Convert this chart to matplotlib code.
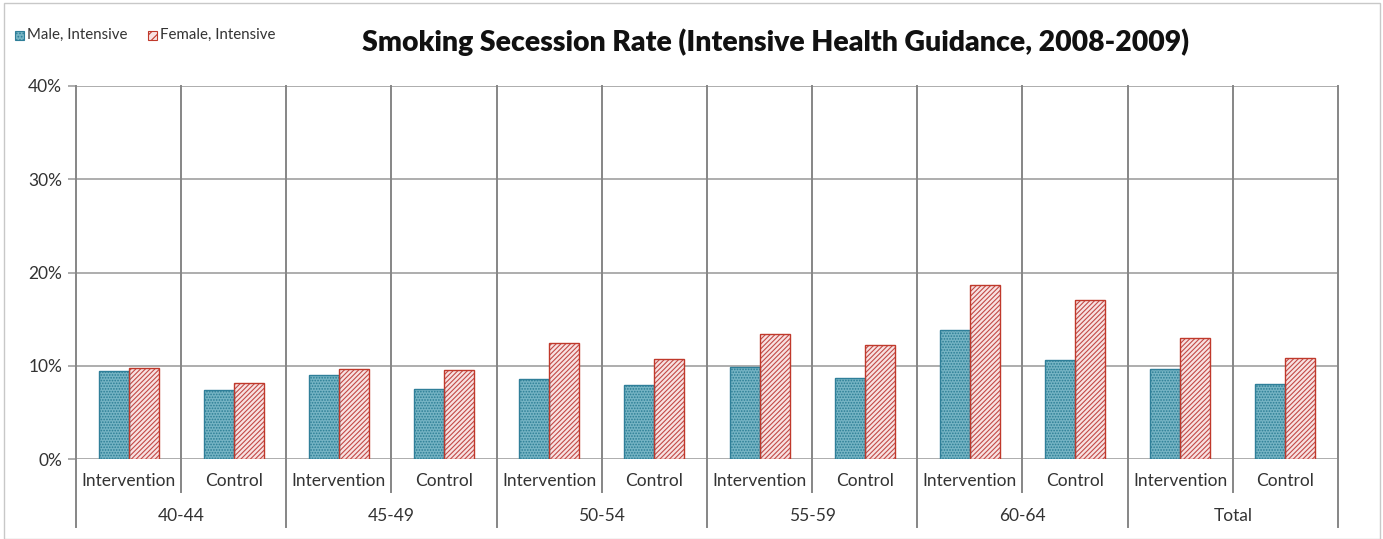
import numpy as np
import matplotlib
matplotlib.use("Agg")
import matplotlib.pyplot as plt
from matplotlib.patches import Rectangle
import matplotlib.transforms as mtransforms

# data
groups = ["40-44", "45-49", "50-54", "55-59", "60-64", "Total"]
arms = ["Intervention", "Control"]
male = [9.4, 7.4, 9.0, 7.5, 8.6, 7.9, 9.9, 8.7, 13.8, 10.6, 9.6, 8.0]
female = [9.8, 8.2, 9.7, 9.5, 12.4, 10.7, 13.4, 12.2, 18.7, 17.1, 13.0, 10.8]
yticks = [0, 10, 20, 30, 40]

plt.rcParams['font.family'] = ['Lato', 'DejaVu Sans']
plt.rcParams['hatch.linewidth'] = 0.8

fig = plt.figure(figsize=(13.83, 5.39), dpi=100)
ax = fig.add_axes([76/1383, 1-459/539, (1338-76)/1383, (459-86)/539])

n = len(male)
x = np.arange(n)
w = 0.285

# male bars: teal with fine dotted pattern
ax.bar(x - w/2, male, w, color='#76b4c4', edgecolor='#2a7d94', hatch='......', linewidth=0, zorder=3)
ax.bar(x - w/2, male, w, fill=False, edgecolor='#2f7f99', linewidth=1.0, zorder=4)
# female bars: light pink with red stripes
ax.bar(x + w/2, female, w, color='#f8e2e2', edgecolor='#c24a47', hatch='///////', linewidth=0, zorder=3)
ax.bar(x + w/2, female, w, fill=False, edgecolor='#c0392b', linewidth=1.0, zorder=4)

ax.set_xlim(-0.5, n - 0.5)
ax.set_ylim(0, 40)
for s in ax.spines.values():
    s.set_visible(False)

# horizontal gridlines
for yv in yticks:
    ax.axhline(yv, color='#a0a0a0', linewidth=1.2, zorder=1)

ax.set_yticks(yticks)
ax.set_yticklabels([f"{v}%" for v in yticks])
ax.tick_params(axis='y', length=6, color='#a0a0a0', width=1.2, labelsize=12.5, pad=4, labelcolor='#333333')
ax.set_xticks([])

# category separators, inside and below the plot
trans = mtransforms.blended_transform_factory(ax.transData, ax.transAxes)
for k in range(n + 1):
    xb = k - 0.5
    low = -0.182 if k % 2 == 0 else -0.088
    ax.plot([xb, xb], [low, 1], transform=trans, color='#868686', linewidth=1.4,
            clip_on=False, zorder=2)

# two-level axis labels
for i in range(n):
    ax.text(i, -0.059, arms[i % 2], transform=trans, ha='center', va='center',
            fontsize=12.5, color='#333333')
for g, name in enumerate(groups):
    ax.text(2*g + 0.5, -0.153, name, transform=trans, ha='center', va='center',
            fontsize=12.5, color='#333333')

# title
fig.text(776/1383, 1-42/539, "Smoking Secession Rate (Intensive Health Guidance, 2008-2009)",
         ha='center', va='center', fontsize=20.4, fontweight='heavy', color='#111111')

# legend
fig.patches.append(Rectangle((15/1383, 1-40/539), 9/1383, 9/539, transform=fig.transFigure,
                             facecolor='#76b4c4', edgecolor='#2f7f99', hatch='.....', linewidth=0.8))
fig.text(27/1383, 1-35/539, "Male, Intensive", ha='left', va='center', fontsize=10.8, color='#333333')
fig.patches.append(Rectangle((148/1383, 1-40/539), 9/1383, 9/539, transform=fig.transFigure,
                             facecolor='#f8e2e2', edgecolor='#c0392b', hatch='////', linewidth=0.8))
fig.text(160/1383, 1-35/539, "Female, Intensive", ha='left', va='center', fontsize=10.8, color='#333333')

# figure frame
fig.patches.append(Rectangle((4/1383, 0), 1376/1383, 1-3/539, transform=fig.transFigure,
                             fill=False, edgecolor='#c8c8c8', linewidth=1))

fig.savefig("out.png", dpi=100)
